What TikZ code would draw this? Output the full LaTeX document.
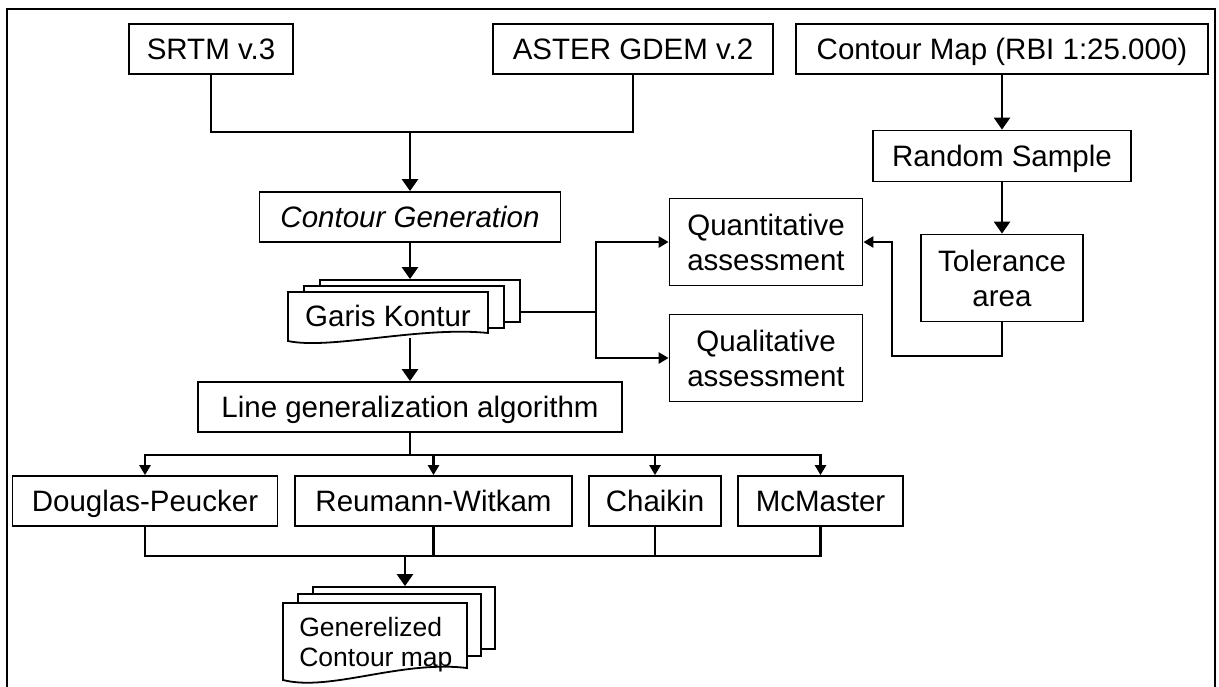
\documentclass[tikz,border=0pt]{standalone}
\usepackage{fontspec}
\setmainfont{Liberation Sans}
\usepackage{tikz}
\usetikzlibrary{arrows.meta}

\begin{document}
\begin{tikzpicture}
[x=0.5pt, y=-0.5pt,
>={Triangle[length=6pt,width=8pt]},
line width=1.3pt,
small arrow/.style={>={Triangle[length=5pt,width=5.5pt]}},
box/.style={rectangle, draw, line width=0.9pt, fill=white, inner sep=0pt,
  minimum height=25pt, align=center,
  font=\fontsize{14.75}{17.5}\selectfont},
one line/.style={text height=10.6pt, text depth=0pt},
page/.style={rectangle, draw, line width=0.9pt, fill=white, inner sep=0pt},
sheet/.style={draw, line width=0.9pt, fill=white}]

  \useasboundingbox (0,0) rectangle (1219,686);
  \draw[line width=0.9pt] (7,690) -- (7,9) -- (1215,9) -- (1215,690);

  % sources
  \node[box, one line, minimum width=82pt] (srtm) at (211,49) {SRTM v.3};
  \node[box, one line, minimum width=140pt] (aster) at (633,49) {ASTER GDEM v.2};
  \node[box, one line, minimum width=206pt] (cmap) at (1002,49) {Contour Map (RBI 1:25.000)};

  \node[box, one line, minimum width=150.5pt, font=\fontsize{14.75}{18}\selectfont\itshape]
    (gen) at (410,217) {Contour Generation};

  % Garis Kontur, stacked pages
  \node[page, minimum width=100pt, minimum height=21pt] (garis3) at (420,301) {};
  \node[page, minimum width=100pt, minimum height=21pt] (garis2) at (404,307) {};
  \draw[sheet] (288,292) -- (488,292) -- (488,333)
    .. controls (420,326) and (330,350) .. (288,341) -- cycle;
  \node[one line, inner sep=0pt, minimum width=100pt, minimum height=21pt,
    font=\fontsize{14.75}{18}\selectfont] (garis) at (388,316) {Garis Kontur};

  % assessment
  \node[box, minimum width=96.5pt, minimum height=43.5pt] (quant) at (766,242)
    {Quantitative\\assessment};
  \node[box, minimum width=96.5pt, minimum height=43.5pt] (qual) at (766,358)
    {Qualitative\\assessment};
  \node[box, one line, minimum width=129pt, minimum height=25.5pt] (rsample) at (1002,156) {Random Sample};
  \node[box, minimum width=81pt, minimum height=43.5pt] (tol) at (1002,278)
    {Tolerance\\area};

  % generalization
  \node[box, one line, minimum width=212pt] (linegen) at (410,407) {Line generalization algorithm};
  \node[box, one line, minimum width=132.5pt] (dp) at (145,501) {Douglas-Peucker};
  \node[box, one line, minimum width=138.5pt] (rw) at (433.5,501) {Reumann-Witkam};
  \node[box, one line, minimum width=66pt] (chaikin) at (655,501) {Chaikin};
  \node[box, one line, minimum width=82.5pt] (mcmaster) at (820.5,501) {McMaster};

  % Generelized contour map, stacked pages
  \node[page, minimum width=91pt, minimum height=31pt] (genmap3) at (404,618) {};
  \node[page, minimum width=91.5pt, minimum height=31pt] (genmap2) at (389.5,625) {};
  \draw[sheet] (283,603) -- (467,603) -- (467,668)
    .. controls (400,660) and (330,692) .. (283,680) -- cycle;
  \node[inner sep=0pt, anchor=west, align=left,
    font=\fontsize{13.25}{15}\selectfont] (genmap) at (298,645)
    {Generelized\\Contour map};

  \coordinate (srcjoin) at (410,132);
  \coordinate (split) at (596,312);
  \coordinate (back) at (892,356);
  \coordinate (split2) at (410,455);
  \coordinate (join2) at (405,556);

  \draw (srtm) |- (srcjoin) -| (aster);
  \draw[->] (srcjoin) -- (gen);
  \draw[->] (gen) -- (gen.south |- garis3.north);
  \draw (garis3.east |- split) -- (split);
  \draw[->, small arrow] (split) |- (quant);
  \draw[->, small arrow] (split) |- (qual);
  \draw[->] (cmap) -- (rsample);
  \draw[->] (rsample) -- (tol);
  \draw[->, small arrow] (tol) |- (back) |- (quant);
  \draw[->] (garis.south -| linegen) -- (linegen);
  \draw (linegen) -- (split2);
  \foreach \n in {dp,rw,chaikin,mcmaster}
    \draw[->, small arrow] (split2) -| (\n);
  \foreach \n in {dp,rw,chaikin,mcmaster}
    \draw (\n) |- (join2);
  \draw[->] (join2) -- (join2 |- genmap3.north);

\end{tikzpicture}
\end{document}
